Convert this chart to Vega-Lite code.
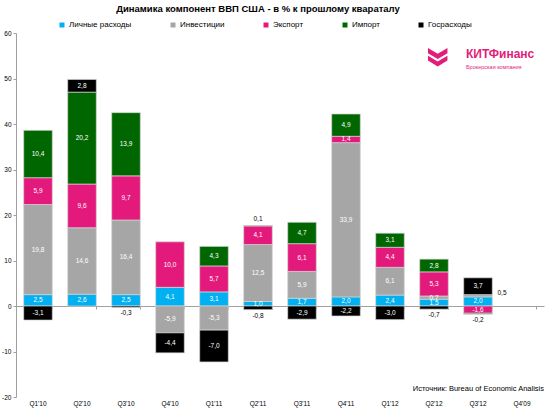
{
  "$schema": "https://vega.github.io/schema/vega-lite/v6.json",
  "width": 528,
  "height": 364,
  "autosize": {"type": "none"},
  "padding": {"left": 16, "top": 33, "right": 6, "bottom": 14},
  "background": "white",
  "config": {
    "font": "Liberation Sans",
    "view": {"stroke": null},
    "axis": {"labelFont": "Liberation Sans", "labelColor": "#000000"},
    "legend": {"labelFont": "Liberation Sans"}
  },
  "title": {
    "text": "Динамика компонент ВВП США - в % к прошлому квараталу",
    "font": "Liberation Sans",
    "fontSize": 9.5,
    "fontWeight": "bold",
    "color": "#000000",
    "anchor": "middle",
    "dx": -22,
    "offset": 8
  },
  "resolve": {"axis": {"x": "independent", "y": "independent"}},
  "layer": [
    {
      "data": {
        "values": [
          {"q": "Q1'10", "comp": "Личные расходы", "v": 2.5},
          {"q": "Q1'10", "comp": "Инвестиции", "v": 19.8},
          {"q": "Q1'10", "comp": "Экспорт", "v": 5.9},
          {"q": "Q1'10", "comp": "Импорт", "v": 10.4},
          {"q": "Q1'10", "comp": "Госрасходы", "v": -3.1},
          {"q": "Q2'10", "comp": "Личные расходы", "v": 2.6},
          {"q": "Q2'10", "comp": "Инвестиции", "v": 14.6},
          {"q": "Q2'10", "comp": "Экспорт", "v": 9.6},
          {"q": "Q2'10", "comp": "Импорт", "v": 20.2},
          {"q": "Q2'10", "comp": "Госрасходы", "v": 2.8},
          {"q": "Q3'10", "comp": "Личные расходы", "v": 2.5},
          {"q": "Q3'10", "comp": "Инвестиции", "v": 16.4},
          {"q": "Q3'10", "comp": "Экспорт", "v": 9.7},
          {"q": "Q3'10", "comp": "Импорт", "v": 13.9},
          {"q": "Q3'10", "comp": "Госрасходы", "v": -0.3},
          {"q": "Q4'10", "comp": "Личные расходы", "v": 4.1},
          {"q": "Q4'10", "comp": "Инвестиции", "v": -5.9},
          {"q": "Q4'10", "comp": "Экспорт", "v": 10.0},
          {"q": "Q4'10", "comp": "Госрасходы", "v": -4.4},
          {"q": "Q1'11", "comp": "Личные расходы", "v": 3.1},
          {"q": "Q1'11", "comp": "Инвестиции", "v": -5.3},
          {"q": "Q1'11", "comp": "Экспорт", "v": 5.7},
          {"q": "Q1'11", "comp": "Импорт", "v": 4.3},
          {"q": "Q1'11", "comp": "Госрасходы", "v": -7.0},
          {"q": "Q2'11", "comp": "Личные расходы", "v": 1.0},
          {"q": "Q2'11", "comp": "Инвестиции", "v": 12.5},
          {"q": "Q2'11", "comp": "Экспорт", "v": 4.1},
          {"q": "Q2'11", "comp": "Импорт", "v": 0.1},
          {"q": "Q2'11", "comp": "Госрасходы", "v": -0.8},
          {"q": "Q3'11", "comp": "Личные расходы", "v": 1.7},
          {"q": "Q3'11", "comp": "Инвестиции", "v": 5.9},
          {"q": "Q3'11", "comp": "Экспорт", "v": 6.1},
          {"q": "Q3'11", "comp": "Импорт", "v": 4.7},
          {"q": "Q3'11", "comp": "Госрасходы", "v": -2.9},
          {"q": "Q4'11", "comp": "Личные расходы", "v": 2.0},
          {"q": "Q4'11", "comp": "Инвестиции", "v": 33.9},
          {"q": "Q4'11", "comp": "Экспорт", "v": 1.4},
          {"q": "Q4'11", "comp": "Импорт", "v": 4.9},
          {"q": "Q4'11", "comp": "Госрасходы", "v": -2.2},
          {"q": "Q1'12", "comp": "Личные расходы", "v": 2.4},
          {"q": "Q1'12", "comp": "Инвестиции", "v": 6.1},
          {"q": "Q1'12", "comp": "Экспорт", "v": 4.4},
          {"q": "Q1'12", "comp": "Импорт", "v": 3.1},
          {"q": "Q1'12", "comp": "Госрасходы", "v": -3.0},
          {"q": "Q2'12", "comp": "Личные расходы", "v": 1.5},
          {"q": "Q2'12", "comp": "Инвестиции", "v": 0.7},
          {"q": "Q2'12", "comp": "Экспорт", "v": 5.3},
          {"q": "Q2'12", "comp": "Импорт", "v": 2.8},
          {"q": "Q2'12", "comp": "Госрасходы", "v": -0.7},
          {"q": "Q3'12", "comp": "Личные расходы", "v": 2.0},
          {"q": "Q3'12", "comp": "Инвестиции", "v": 0.5},
          {"q": "Q3'12", "comp": "Экспорт", "v": -1.6},
          {"q": "Q3'12", "comp": "Импорт", "v": -0.2},
          {"q": "Q3'12", "comp": "Госрасходы", "v": 3.7}
        ]
      },
      "transform": [
        {"calculate": "indexof(['Личные расходы','Инвестиции','Экспорт','Импорт','Госрасходы'], datum.comp)", "as": "k"},
        {"stack": "v", "groupby": ["q"], "sort": [{"field": "k", "order": "ascending"}], "as": ["y0", "y1"]},
        {"calculate": "(datum.y0 + datum.y1) / 2", "as": "mid"},
        {"calculate": "min(datum.y0, datum.y1)", "as": "ylo"},
        {"calculate": "max(datum.y0, datum.y1)", "as": "yhi"},
        {"calculate": "(datum.v < 0 ? '-' : '') + replace(format(abs(datum.v), '.1f'), '.', ',')", "as": "lab"}
      ],
      "resolve": {"axis": {"x": "independent", "y": "independent"}},
      "layer": [
        {
          "mark": {"type": "bar", "stroke": "#d4d4d4", "strokeWidth": 0.7},
          "encoding": {
            "x": {
              "field": "q", "type": "nominal",
              "scale": {
                "domain": ["Q1'10","Q2'10","Q3'10","Q4'10","Q1'11","Q2'11","Q3'11","Q4'11","Q1'12","Q2'12","Q3'12","Q4'09"],
                "paddingInner": 0.35, "paddingOuter": 0.175
              },
              "axis": {
                "orient": "bottom", "offset": -91, "labels": false, "title": null,
                "ticks": true, "tickBand": "extent", "tickSize": 3,
                "tickColor": "#a0a0a0", "domainColor": "#a0a0a0", "domainWidth": 1
              }
            },
            "y": {
              "field": "y1", "type": "quantitative",
              "scale": {"domain": [-20, 60], "nice": false, "zero": false},
              "axis": {
                "values": [-20, -10, 0, 10, 20, 30, 40, 50, 60],
                "title": null, "grid": false,
                "domainColor": "#a0a0a0", "tickColor": "#a0a0a0", "tickSize": 3,
                "labelFontSize": 6.5, "labelPadding": 2,
                "labelExpr": "datum.value < 0 ? '-' + abs(datum.value) : '' + datum.value"
              }
            },
            "y2": {"field": "y0"},
            "color": {
              "field": "comp", "type": "nominal",
              "scale": {
                "domain": ["Личные расходы","Инвестиции","Экспорт","Импорт","Госрасходы"],
                "range": ["#00B0F0","#A6A6A6","#E3197B","#006600","#000000"]
              },
              "legend": {
                "title": null, "orient": "none", "direction": "horizontal",
                "legendX": 42, "legendY": -12,
                "symbolType": "square", "symbolSize": 25, "symbolStrokeWidth": 0,
                "labelFontSize": 8, "labelOffset": 3, "columnPadding": 37
              }
            }
          }
        },
        {
          "transform": [{"filter": "!(abs(datum.v) < 0.7 || (datum.comp == 'Госрасходы' && abs(datum.v) < 1))"}],
          "mark": {"type": "text", "color": "white", "fontSize": 6.5, "baseline": "middle"},
          "encoding": {
            "x": {
              "field": "q", "type": "nominal",
              "axis": {
                "orient": "bottom", "title": null, "domain": false, "ticks": false,
                "labelFontSize": 6.5, "labelPadding": 3, "labelAngle": 0
              }
            },
            "y": {"field": "mid", "type": "quantitative", "axis": null},
            "text": {"field": "lab"}
          }
        },
        {
          "transform": [{"filter": "datum.v < 0 && (abs(datum.v) < 0.7 || (datum.comp == 'Госрасходы' && abs(datum.v) < 1))"}],
          "mark": {"type": "text", "color": "black", "fontSize": 6.5, "baseline": "top", "dy": 3},
          "encoding": {
            "x": {"field": "q", "type": "nominal", "axis": null},
            "y": {"field": "ylo", "type": "quantitative", "axis": null},
            "text": {"field": "lab"}
          }
        },
        {
          "transform": [{"filter": "datum.v > 0 && abs(datum.v) < 0.7 && datum.comp == 'Импорт'"}],
          "mark": {"type": "text", "color": "black", "fontSize": 6.5, "baseline": "bottom", "dy": -3},
          "encoding": {
            "x": {"field": "q", "type": "nominal", "axis": null},
            "y": {"field": "yhi", "type": "quantitative", "axis": null},
            "text": {"field": "lab"}
          }
        },
        {
          "transform": [{"filter": "datum.v > 0 && abs(datum.v) < 0.7 && datum.comp == 'Инвестиции'"}],
          "mark": {"type": "text", "color": "black", "fontSize": 6.5, "baseline": "bottom", "dx": 24, "dy": 0},
          "encoding": {
            "x": {"field": "q", "type": "nominal", "axis": null},
            "y": {"field": "mid", "type": "quantitative", "axis": null},
            "text": {"field": "lab"}
          }
        }
      ]
    },
    {
      "data": {"values": [{"q": "Q4'09", "y": -18.3, "t": "Источник: Bureau of Economic Analisis"}]},
      "mark": {"type": "text", "fontSize": 7.5, "color": "#000000", "align": "right", "baseline": "middle", "dx": 22},
      "encoding": {
        "x": {"field": "q", "type": "nominal", "axis": null},
        "y": {"field": "y", "type": "quantitative", "axis": null},
        "text": {"field": "t"}
      }
    },
    {
      "data": {"values": [{"q": "Q3'12", "y": 55.4, "t": "КИТФинанс"}]},
      "mark": {"type": "text", "fontSize": 12, "fontWeight": "bold", "color": "#E31C79", "align": "left", "baseline": "middle", "dx": -12},
      "encoding": {
        "x": {"field": "q", "type": "nominal", "axis": null},
        "y": {"field": "y", "type": "quantitative", "axis": null},
        "text": {"field": "t"}
      }
    },
    {
      "data": {"values": [{"q": "Q3'12", "y": 52.6, "t": "Брокерская компания"}]},
      "mark": {"type": "text", "fontSize": 5.5, "color": "#E31C79", "align": "left", "baseline": "middle", "dx": -12},
      "encoding": {
        "x": {"field": "q", "type": "nominal", "axis": null},
        "y": {"field": "y", "type": "quantitative", "axis": null},
        "text": {"field": "t"}
      }
    },
    {
      "data": {"values": [{"q": "Q3'12", "y": 54.8}]},
      "mark": {
        "type": "point", "filled": true, "color": "#E31C79", "opacity": 1, "size": 380,
        "shape": "M-1,-0.9 L0,-0.3 L1,-0.9 L1,-0.35 L0,0.25 L-1,-0.35 Z M-1,-0.1 L0,0.5 L1,-0.1 L1,0.4 L0,1 L-1,0.4 Z"
      },
      "encoding": {
        "x": {"field": "q", "type": "nominal", "axis": null},
        "xOffset": {"value": -26},
        "y": {"field": "y", "type": "quantitative", "axis": null}
      }
    }
  ]
}
